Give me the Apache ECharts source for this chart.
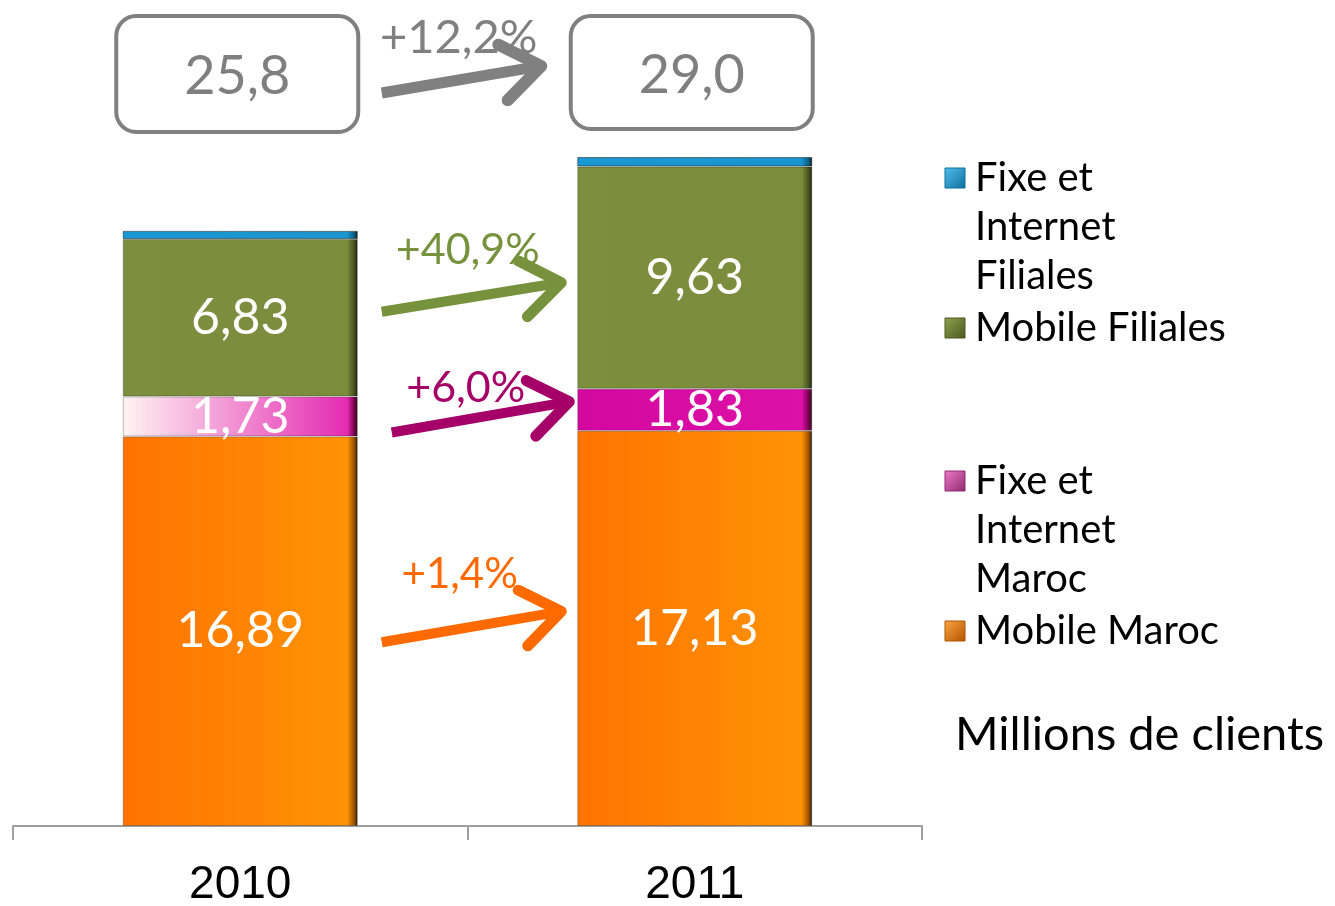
<!DOCTYPE html>
<html>
<head>
<meta charset="utf-8">
<style>
  html, body { margin: 0; padding: 0; background: #fff; }
  #chart { width: 1335px; height: 906px; }
</style>
<script src="https://cdn.jsdelivr.net/npm/echarts@6/dist/echarts.min.js"></script>
</head>
<body>
<div id="chart"></div>
<script>
const categories = ['2010', '2011'];
const mobileMaroc = [16.89, 17.13];
const fixeMaroc = [1.73, 1.83];
const mobileFiliales = [6.83, 9.63];
const fixeFiliales = [0.35, 0.41];
const totalLabels = ['25,8', '29,0'];
const growthTotal = '+12,2%';
const growthMobileFiliales = '+40,9%';
const growthFixeMaroc = '+6,0%';
const growthMobileMaroc = '+1,4%';
const legendNames = ['Fixe et\nInternet\nFiliales', 'Mobile Filiales', 'Fixe et\nInternet\nMaroc', 'Mobile Maroc'];
const unitLabel = 'Millions de clients';

const FONT = 'Lato, "Open Sans", sans-serif';
const BAR_W = 235;

const fmt = (v) => v.toFixed(2).replace('.', ',');

// horizontal gradient with a dark bevel on the right edge
const edged = (c1, c2, dark) => new echarts.graphic.LinearGradient(0, 0, 1, 0, [
  { offset: 0, color: c1 },
  { offset: 0.955, color: c2 },
  { offset: 0.985, color: dark },
  { offset: 1, color: '#1e1a10' }
]);

const colors = {
  orange: edged('#ff7300', '#ff9306', '#9a5000'),
  pink: edged('#d4079f', '#dd10a8', '#7a0050'),
  pinkLight: edged('#fff4f2', '#e42cb2', '#7a0050'),
  green: edged('#7d8f3f', '#7b8c3c', '#46521f'),
  blue: edged('#1a98d4', '#1b95cf', '#0b5c82')
};

const label = {
  show: true,
  position: 'inside',
  color: '#fff',
  fontFamily: FONT,
  fontSize: 50,
  formatter: (p) => fmt(p.value)
};

const barBase = {
  type: 'bar',
  stack: 'total',
  barWidth: BAR_W,
  itemStyle: { borderColor: 'rgba(0,0,0,0.25)', borderWidth: 1 }
};

const chart = echarts.init(document.getElementById('chart'));

chart.setOption({
  animation: false,
  backgroundColor: '#fff',
  grid: { left: 13, right: 413, top: 134, bottom: 80, containLabel: false, outerBoundsMode: 'none' },
  xAxis: {
    type: 'category',
    data: categories,
    axisLine: { lineStyle: { color: '#a0a0a0', width: 2 } },
    axisTick: { show: true, length: 14, lineStyle: { color: '#a0a0a0', width: 2 } },
    axisLabel: {
      margin: 36,
      color: '#000',
      fontSize: 46,
      fontFamily: '"Liberation Sans Narrow", "Liberation Sans", sans-serif'
    }
  },
  yAxis: { type: 'value', min: 0, max: 30, show: false, splitLine: { show: false } },
  series: [
    Object.assign({}, barBase, {
      name: 'Mobile Maroc',
      data: mobileMaroc,
      itemStyle: Object.assign({}, barBase.itemStyle, { color: colors.orange }),
      label
    }),
    Object.assign({}, barBase, {
      name: 'Fixe et Internet Maroc',
      data: fixeMaroc.map((v, i) => ({
        value: v,
        itemStyle: { color: i === 0 ? colors.pinkLight : colors.pink }
      })),
      itemStyle: barBase.itemStyle,
      label
    }),
    Object.assign({}, barBase, {
      name: 'Mobile Filiales',
      data: mobileFiliales,
      itemStyle: Object.assign({}, barBase.itemStyle, { color: colors.green }),
      label
    }),
    Object.assign({}, barBase, {
      name: 'Fixe et Internet Filiales',
      data: fixeFiliales,
      itemStyle: Object.assign({}, barBase.itemStyle, { color: colors.blue }),
      label: { show: false }
    })
  ]
});

// ---- annotations placed from the chart's own scales ----
const px = (i, v) => chart.convertToPixel({ gridIndex: 0 }, [categories[i], v]);
const mid = (i, below, value) => px(i, below + value / 2)[1];

function arrow(x1, y1, x2, y2, color, width) {
  const ang = Math.atan2(y2 - y1, x2 - x1);
  const len = 48, spread = Math.PI * 0.2;
  const a1 = [x2 - len * Math.cos(ang - spread), y2 - len * Math.sin(ang - spread)];
  const a2 = [x2 - len * Math.cos(ang + spread), y2 - len * Math.sin(ang + spread)];
  const style = { stroke: color, lineWidth: width + 1, lineCap: 'round', lineJoin: 'round', fill: null };
  return [
    { type: 'polyline', shape: { points: [[x1, y1], [x2 - 4 * Math.cos(ang), y2 - 4 * Math.sin(ang)]] }, style: Object.assign({}, style, { lineWidth: width, lineCap: 'butt' }) },
    { type: 'polyline', shape: { points: [a1, [x2, y2], a2] }, style }
  ];
}

function growthText(x, y, text, color, size) {
  return {
    type: 'text', x, y,
    style: { text, fill: color, font: `${size}px ${FONT}`, align: 'center', verticalAlign: 'middle' }
  };
}

const c0 = px(0, 0)[0];
const c1 = px(1, 0)[0];
const xs = c0 + BAR_W / 2 + 24;
const xe = c1 - BAR_W / 2 - 16;

const graphics = [];

// total boxes
const boxTop = 16, boxH = 116, boxW = 242;
[c0, c1].forEach((cx, i) => {
  graphics.push({
    type: 'rect',
    shape: { x: cx - boxW / 2 - 3, y: boxTop, width: boxW, height: boxH - i * 3, r: 20 },
    style: { fill: '#fff', stroke: '#808080', lineWidth: 4 }
  });
  graphics.push(growthText(cx - 3, boxTop + (boxH - i * 3) / 2 + 3, totalLabels[i], '#7f7f7f', 54));
});

// total growth arrow
const boxMid = boxTop + boxH / 2;
graphics.push(...arrow(xs, boxMid + 19, xe - 20, boxMid - 8, '#808080', 11));
graphics.push(growthText(xs + 77, boxMid - 36, growthTotal, '#808080', 47));

// Mobile Filiales
const gy0 = mid(0, mobileMaroc[0] + fixeMaroc[0], mobileFiliales[0]) - 6;
const gy1 = mid(1, mobileMaroc[1] + fixeMaroc[1], mobileFiliales[1]) + 5;
graphics.push(...arrow(xs, gy0, xe, gy1, '#76923c', 10));
graphics.push(growthText(xs + 86, gy0 - 62, growthMobileFiliales, '#76923c', 43));

// Fixe et Internet Maroc
const py0 = mid(0, mobileMaroc[0], fixeMaroc[0]) + 16;
const py1 = mid(1, mobileMaroc[1], fixeMaroc[1]) - 8;
graphics.push(...arrow(xs + 10, py0, xe + 8, py1, '#a50068', 10));
graphics.push(growthText(xs + 84, py0 - 44, growthFixeMaroc, '#a50068', 43));

// Mobile Maroc
const oy0 = mid(0, 0, mobileMaroc[0]) + 11;
const oy1 = mid(1, 0, mobileMaroc[1]) - 17;
graphics.push(...arrow(xs, oy0, xe, oy1, '#ff6a00', 10));
graphics.push(growthText(xs + 78, oy0 - 68, growthMobileMaroc, '#ff6a00', 42));

// legend (icons aligned with the first text line)
const legendX = 945;
const legendRows = [178, 328, 481, 631];
const legendColors = [
  ['#52c0f0', '#0d6e9c'],
  ['#8fa44c', '#4a5820'],
  ['#f07ac8', '#8c2a6e'],
  ['#ffa640', '#b05300']
];
legendNames.forEach((name, i) => {
  const y = legendRows[i];
  graphics.push({
    type: 'rect',
    shape: { x: legendX, y: y - 10, width: 20, height: 20 },
    style: {
      fill: new echarts.graphic.LinearGradient(0, 0, 1, 1, [
        { offset: 0, color: legendColors[i][0] },
        { offset: 1, color: legendColors[i][1] }
      ]),
      stroke: legendColors[i][1], lineWidth: 1
    }
  });
  graphics.push({
    type: 'text', x: legendX + 30, y: y - 24,
    style: { text: name, fill: '#000', font: `40px ${FONT}`, lineHeight: 49, verticalAlign: 'top' }
  });
});
graphics.push({
  type: 'text', x: 955, y: 735,
  style: { text: unitLabel, fill: '#000', font: `47px ${FONT}`, verticalAlign: 'middle' }
});

chart.setOption({ graphic: graphics });
</script>
</body>
</html>
